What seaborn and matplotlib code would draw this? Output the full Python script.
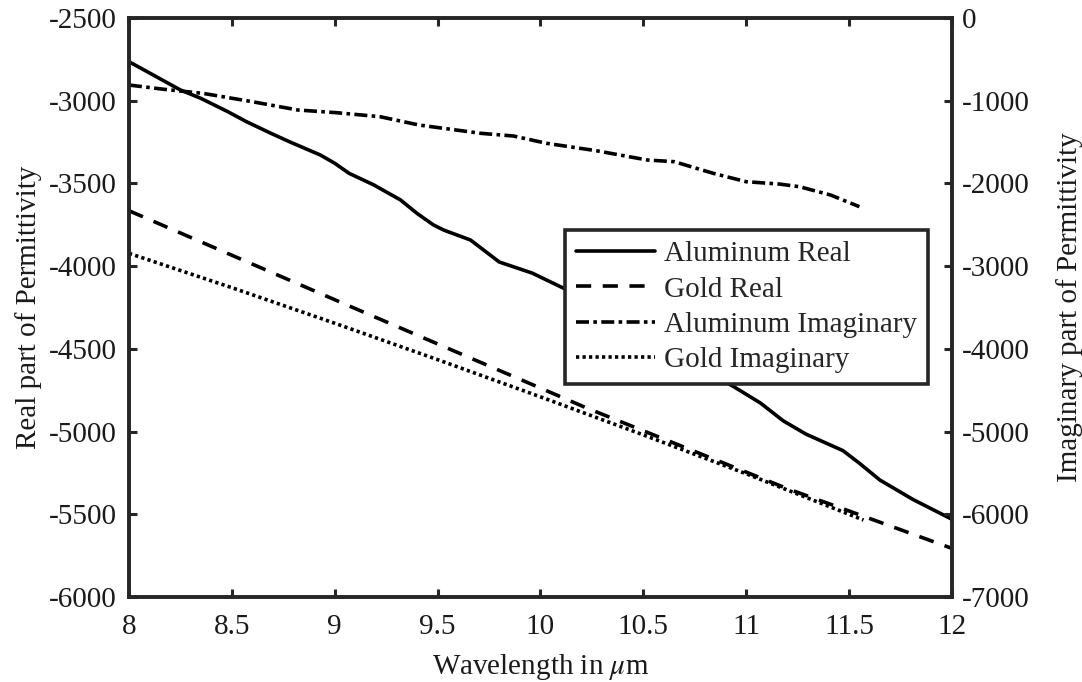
import matplotlib
matplotlib.use("Agg")
import matplotlib.pyplot as plt
import seaborn as sns

# Aluminum, real part (left axis)
al_real_wl = [8.00, 8.25, 8.35, 8.48, 8.57, 8.69, 8.78, 8.93, 9.00, 9.07, 9.19,
              9.32, 9.40, 9.48, 9.53, 9.66, 9.80, 9.96, 10.11, 10.30, 10.50,
              10.70, 10.85, 10.94, 11.07, 11.18, 11.29, 11.47, 11.55, 11.65,
              11.81, 12.00]
al_real = [-2764, -2935, -2986, -3066, -3126, -3197, -3248, -3328, -3378, -3439,
           -3509, -3600, -3681, -3751, -3782, -3842, -3975, -4042, -4132, -4265,
           -4400, -4560, -4665, -4729, -4828, -4935, -5015, -5115, -5191, -5293,
           -5410, -5530]

# Gold, real part (left axis)
au_real_wl = [8.0, 8.5, 9.06, 9.5, 10.0, 10.22, 10.5, 11.0, 11.2, 11.5, 12.0]
au_real = [-3665, -3934, -4235, -4470, -4737, -4855, -4995, -5245, -5345, -5480, -5706]

# Aluminum, imaginary part (right axis)
al_imag_wl = [8.00, 8.17, 8.36, 8.60, 8.82, 9.01, 9.22, 9.41, 9.71, 9.87, 10.03,
              10.27, 10.52, 10.65, 10.84, 11.00, 11.16, 11.26, 11.41, 11.55]
al_imag = [-810, -862, -911, -1012, -1112, -1145, -1193, -1294, -1394, -1427,
           -1515, -1604, -1717, -1737, -1878, -1979, -2007, -2040, -2140, -2281]

# Gold, imaginary part (right axis)
au_imag_wl = [8.0, 8.5, 9.0, 9.5, 10.0, 10.5, 11.0, 11.57]
au_imag = [-2845, -3260, -3690, -4130, -4580, -5040, -5510, -6069]

x_ticks = [8, 8.5, 9, 9.5, 10, 10.5, 11, 11.5, 12]
x_tick_labels = ["8", "8.5", "9", "9.5", "10", "10.5", "11", "11.5", "12"]
left_ticks = [-6000, -5500, -5000, -4500, -4000, -3500, -3000, -2500]
right_ticks = [-7000, -6000, -5000, -4000, -3000, -2000, -1000, 0]

sns.set_theme(style="white")
plt.rcParams["font.family"] = ["Liberation Serif", "DejaVu Serif"]
plt.rcParams["mathtext.fontset"] = "stix"
plt.rcParams["axes.unicode_minus"] = False

FS = 21
AX_COLOR = "#262626"
TXT_COLOR = "#1a1a1a"
LW = 2.6

fig = plt.figure(figsize=(10.82, 6.82), dpi=100)
ax1 = fig.add_axes([0.1192, 0.1246, 0.7606, 0.849])
ax2 = ax1.twinx()

sns.lineplot(x=al_real_wl, y=al_real, ax=ax1, color="black", lw=LW)
l_al_real = ax1.lines[-1]
l_al_real.set_linestyle("-")

sns.lineplot(x=au_real_wl, y=au_real, ax=ax1, color="black", lw=LW)
l_au_real = ax1.lines[-1]
l_au_real.set_dashes([4.2, 3.2])

sns.lineplot(x=al_imag_wl, y=al_imag, ax=ax2, color="black", lw=LW)
l_al_imag = ax2.lines[-1]
l_al_imag.set_dashes([3.6, 1.2, 1.0, 1.2])

sns.lineplot(x=au_imag_wl, y=au_imag, ax=ax2, color="black", lw=LW)
l_au_imag = ax2.lines[-1]
l_au_imag.set_dashes([0.9, 0.9])

for a in (ax1, ax2):
    if a.get_legend() is not None:
        a.get_legend().remove()

ax1.set_xlim(8, 12)
ax1.set_ylim(-6000, -2500)
ax2.set_ylim(-7000, 0)

ax1.set_xticks(x_ticks)
ax1.set_xticklabels(x_tick_labels)
ax1.set_yticks(left_ticks)
ax1.set_yticklabels([str(v) for v in left_ticks])
ax2.set_yticks(right_ticks)
ax2.set_yticklabels([str(v) for v in right_ticks])

ax1.tick_params(axis="x", which="both", direction="in", length=6, width=2.2,
                color=AX_COLOR, labelsize=FS, labelcolor=TXT_COLOR,
                top=True, bottom=True, pad=12)
ax1.tick_params(axis="y", direction="in", length=6, width=2.2, color=AX_COLOR,
                labelsize=FS, labelcolor=TXT_COLOR, left=True, right=False, pad=9)
ax2.tick_params(axis="y", direction="in", length=6, width=2.2, color=AX_COLOR,
                labelsize=FS, labelcolor=TXT_COLOR, left=False, right=True, pad=7)
ax2.tick_params(axis="x", bottom=False, top=False, labelbottom=False)

for a in (ax1, ax2):
    for s in a.spines.values():
        s.set_linewidth(2.6)
        s.set_color(AX_COLOR)
        s.set_visible(True)
    a.grid(False)

ax1.set_xlabel(r"Wavelength in $\mu$m", fontsize=FS, color=TXT_COLOR, labelpad=9)
ax1.set_ylabel("Real part of Permittivity", fontsize=FS, color=TXT_COLOR, labelpad=5)
ax2.set_ylabel("Imaginary part of Permittivity", fontsize=FS, color=TXT_COLOR, labelpad=19)

handles = [l_al_real, l_au_real, l_al_imag, l_au_imag]
labels = ["Aluminum Real", "Gold Real", "Aluminum Imaginary", "Gold Imaginary"]
leg = ax2.legend(handles, labels, loc="upper left",
                 bbox_to_anchor=(565 / 1082, 1 - 230 / 682),
                 bbox_transform=fig.transFigure,
                 fontsize=FS, frameon=True, fancybox=False, shadow=False,
                 handlelength=2.7, handletextpad=0.32, labelspacing=0.3,
                 borderpad=0.38, borderaxespad=0.0)
leg.get_frame().set_edgecolor(AX_COLOR)
leg.get_frame().set_linewidth(2.6)
leg.get_frame().set_facecolor("white")
leg.get_frame().set_alpha(1.0)

fig.savefig("out.png", dpi=100, facecolor="white")
